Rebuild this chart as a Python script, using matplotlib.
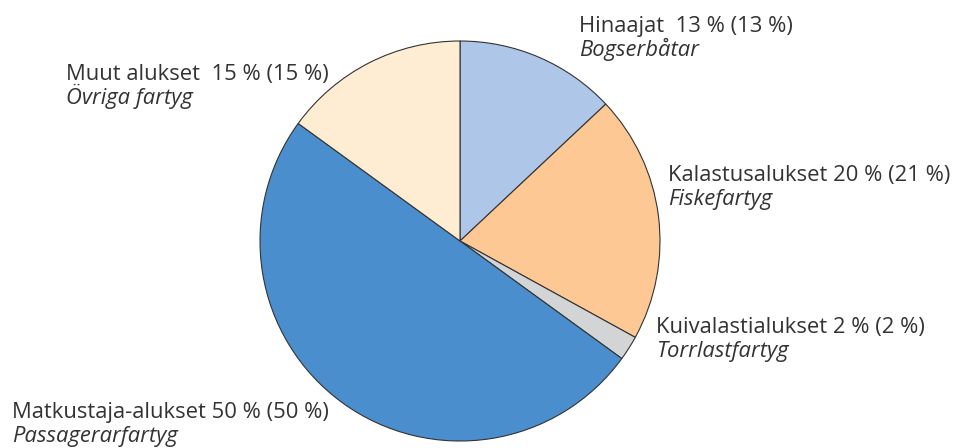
import matplotlib
matplotlib.use("Agg")
import matplotlib.pyplot as plt

labels_fi = ["Hinaajat  13 % (13 %)", "Kalastusalukset 20 % (21 %)", "Kuivalastialukset 2 % (2 %)",
             "Matkustaja-alukset 50 % (50 %)", "Muut alukset  15 % (15 %)"]
labels_sv = ["Bogserbåtar", "Fiskefartyg", "Torrlastfartyg", "Passagerarfartyg", "Övriga fartyg"]
values = [13, 20, 2, 50, 15]
colors = ["#aec6e8", "#fec894", "#d3d4d6", "#4a8ecd", "#feedd3"]

W, H = 954, 448
fig = plt.figure(figsize=(W / 100, H / 100), dpi=100)
ax = fig.add_axes([0, 0, 1, 1])

cx, cy, r = 460, 241, 200
ax.pie(values, colors=colors, startangle=90, counterclock=False, center=(cx, H - cy), radius=r,
       wedgeprops=dict(edgecolor="#333333", linewidth=0.8), frame=True)
ax.set_xlim(0, W)
ax.set_ylim(0, H)
ax.set_aspect("equal")
ax.axis("off")

# label positions (left x, baseline y) in pixels from top
pos = [(579, 32), (668, 181), (656, 333), (12, 418), (66, 80)]
fs = 15.8
for (x, y), fi, sv in zip(pos, labels_fi, labels_sv):
    ax.text(x, H - y, fi, fontsize=fs, family="Open Sans", color="#333333", va="baseline", ha="left")
    ax.text(x, H - (y + 24), sv, fontsize=fs, family="Open Sans", style="italic", color="#333333",
            va="baseline", ha="left")

fig.savefig("out.png", dpi=100)
